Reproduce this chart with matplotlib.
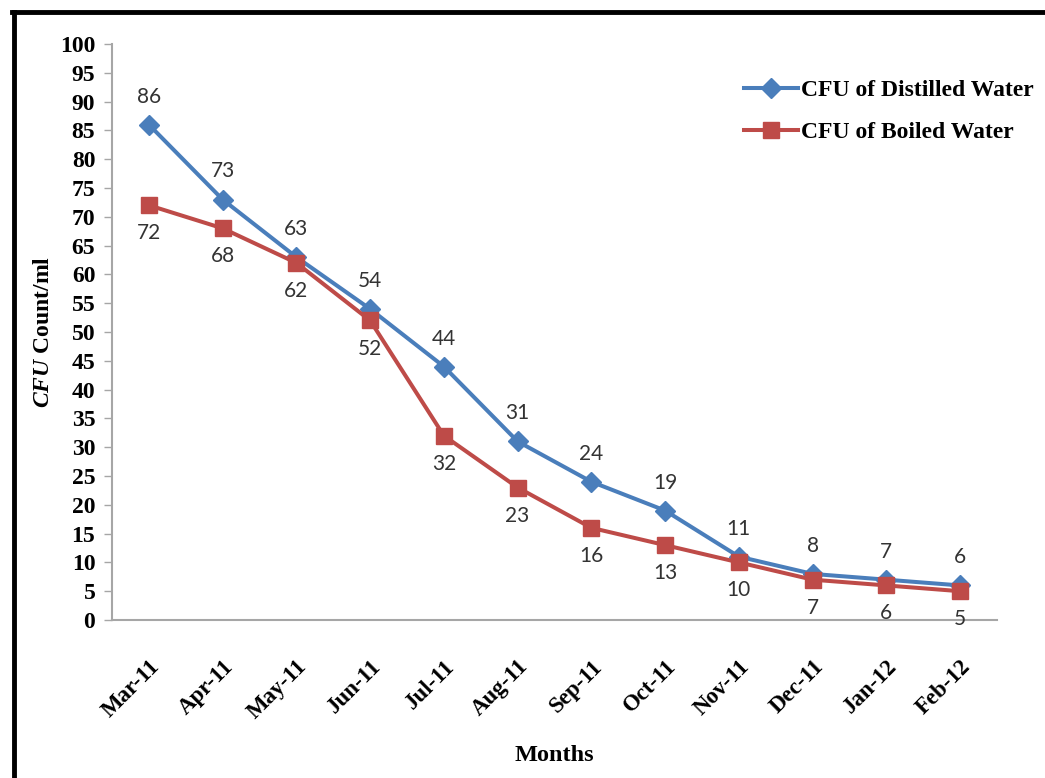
import numpy as np
import matplotlib.pyplot as plt
from matplotlib.lines import Line2D

plt.rcParams['mathtext.fontset'] = 'custom'
plt.rcParams['mathtext.bfit'] = 'Liberation Serif:italic:bold'
plt.rcParams['mathtext.rm'] = 'Liberation Serif:bold'

months = ['Mar-11', 'Apr-11', 'May-11', 'Jun-11', 'Jul-11', 'Aug-11',
          'Sep-11', 'Oct-11', 'Nov-11', 'Dec-11', 'Jan-12', 'Feb-12']
distilled = [86, 73, 63, 54, 44, 31, 24, 19, 11, 8, 7, 6]
boiled = [72, 68, 62, 52, 32, 23, 16, 13, 10, 7, 6, 5]

blue = '#4a7ebb'
red = '#be4b48'
serif = 'Liberation Serif'

fig = plt.figure(figsize=(10.45, 7.78), dpi=100)
ax = fig.add_axes([112/1045, 1-620/778, 885/1045, 576/778])
x = np.arange(len(months))

ax.plot(x, distilled, color=blue, lw=2.9, marker='D', ms=10,
        label='CFU of Distilled Water', zorder=3)
ax.plot(x, boiled, color=red, lw=2.9, marker='s', ms=12,
        label='CFU of Boiled Water', zorder=4)

# data labels: blue above, red below
for i in x:
    ax.annotate(str(distilled[i]), (i, distilled[i]), xytext=(0, 13),
                textcoords='offset points', ha='center', va='bottom',
                fontsize=15, family='Lato', color='#333333')
    ax.annotate(str(boiled[i]), (i, boiled[i]), xytext=(0, -13),
                textcoords='offset points', ha='center', va='top',
                fontsize=15, family='Lato', color='#333333')

ax.set_xlim(-0.5, len(months) - 0.5)
ax.set_ylim(0, 100)
ax.set_yticks(range(0, 101, 5))
ax.set_xticks(x)
ax.set_xticklabels(months, rotation=45, ha='right', va='top',
                   rotation_mode='anchor', family=serif, fontweight='bold',
                   fontsize=16.5)
for lab in ax.get_yticklabels():
    lab.set_family(serif)
    lab.set_fontweight('bold')
    lab.set_fontsize(17)

for s in ['top', 'right']:
    ax.spines[s].set_visible(False)
for s in ['left', 'bottom']:
    ax.spines[s].set_color('#a6a6a6')
    ax.spines[s].set_linewidth(1.5)
ax.tick_params(axis='y', length=6, width=1, color='#a6a6a6', pad=6)
ax.tick_params(axis='x', length=0, pad=26)

ax.set_xlabel('Months', family=serif, fontweight='bold', fontsize=17.5,
              labelpad=16)
ax.set_ylabel(r'$\mathbfit{CFU}$ Count/ml', family=serif, fontweight='bold',
              fontsize=17, labelpad=4)

leg = ax.legend(loc='upper right', bbox_to_anchor=(1.065, 0.975), frameon=False,
                prop={'family': serif, 'weight': 'bold', 'size': 17},
                handlelength=2.3, labelspacing=0.85, handletextpad=0.1)

# thick black frame around the picture (left and top visible)
fig.add_artist(Line2D([14/1045, 14/1045], [0, 1-12/778], color='black',
                      lw=3.5, transform=fig.transFigure))
fig.add_artist(Line2D([12/1045, 1], [1-12/778, 1-12/778], color='black',
                      lw=3.5, transform=fig.transFigure))

fig.savefig('out.png', dpi=100)
